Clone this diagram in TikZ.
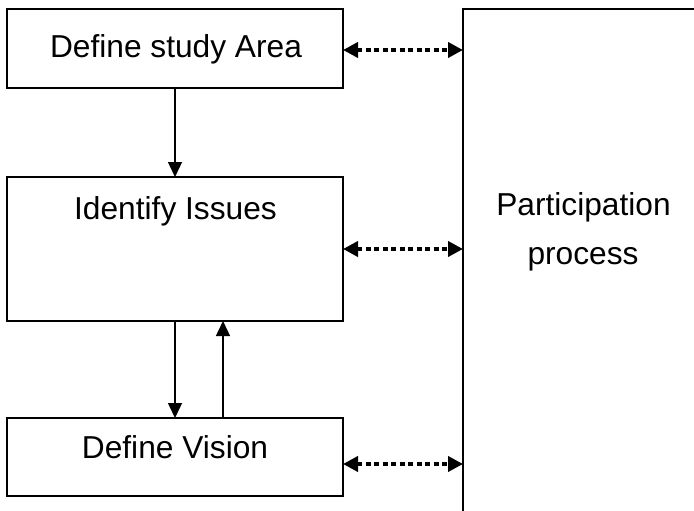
\documentclass[tikz,border=0pt]{standalone}
\usepackage{fontspec}
\setmainfont{Liberation Sans}
\usetikzlibrary{arrows.meta}
\begin{document}
\begin{tikzpicture}[x=1pt,y=-1pt,
  box/.style={draw=black, line width=1.6pt, inner sep=0pt, outer sep=0pt, anchor=north west},
  lbl/.style={anchor=base, inner sep=0pt, font=\fontsize{31.7}{38}\selectfont},
  varrow/.style={line width=1.4pt, -{Triangle[length=15pt,width=14pt]}},
  darrow/.style={line width=4pt, dash pattern=on 5pt off 3.5pt,
    {Triangle[length=15pt,width=15pt]}-{Triangle[length=15pt,width=15pt]}}]
\useasboundingbox (0,0) rectangle (694,511);
\clip (0,0) rectangle (694,511);
% boxes
\node[box, minimum width=336pt, minimum height=79pt] (b1) at (7,9) {};
\node[box, minimum width=336pt, minimum height=144pt] (b2) at (7,177) {};
\node[box, minimum width=336pt, minimum height=78pt] (b3) at (7,418) {};
\node[box, minimum width=270pt, minimum height=560pt] (part) at (463,9) {};
% texts
\node[lbl] (t1) at (176,58) {Define study Area};
\node[lbl] (t2) at (175.5,219) {Identify Issues};
\node[lbl] (t3) at (175,458) {Define Vision};
\node[lbl] (t4) at (583.5,215) {Participation};
\node[lbl] (t5) at (583,264) {process};
% vertical arrows
\draw[varrow] (b1.south) -- (b2.north);
\draw[varrow] (b2.south) -- (b3.north);
\coordinate (u1) at ([xshift=48pt]b3.north);
\draw[varrow] (u1) -- (u1 |- b2.south);
% dotted arrows
\coordinate (a1) at ([yshift=-1.5pt]b1.east);
\coordinate (a2) at (b2.east);
\coordinate (a3) at ([yshift=-7pt]b3.east);
\draw[darrow] (a1) -- (a1 -| part.west);
\draw[darrow] (a2) -- (a2 -| part.west);
\draw[darrow] (a3) -- (a3 -| part.west);
\end{tikzpicture}
\end{document}
